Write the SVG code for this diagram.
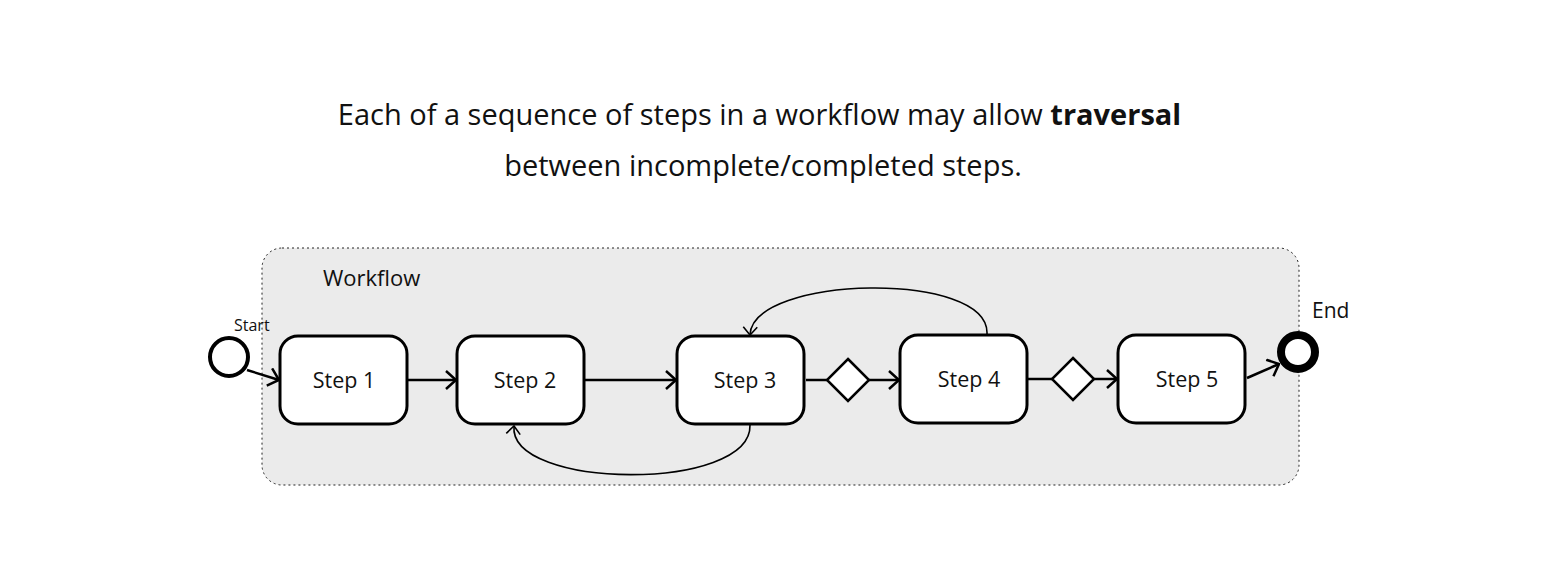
<svg xmlns="http://www.w3.org/2000/svg" width="1553" height="566" viewBox="0 0 1553 566">
<style>
text{font-family:"Open Sans","Noto Sans","Liberation Sans",sans-serif;fill:#111}
.step{fill:#fff;stroke:#000;stroke-width:3}
.lbl{font-size:21.5px;text-anchor:middle}
.c{fill:none;stroke:#000;stroke-width:2.5}
.cv{fill:none;stroke:#000;stroke-width:1.6}
.gw{fill:#fff;stroke:#000;stroke-width:2.5}
</style>
<defs>
<marker id="a" viewBox="0 0 12 20" refX="11" refY="10" markerWidth="12" markerHeight="20" markerUnits="userSpaceOnUse" orient="auto"><path d="M1,1 L11,10 L1,19" fill="none" stroke="#000" stroke-width="2.5"/></marker>
<marker id="s" viewBox="0 0 10 16" refX="9" refY="8" markerWidth="10" markerHeight="16" markerUnits="userSpaceOnUse" orient="auto"><path d="M1,1 L9,8 L1,15" fill="none" stroke="#000" stroke-width="1.6"/></marker>
</defs>
<g id="title">
<text x="759.5" y="125" font-size="29" text-anchor="middle">Each of a sequence of steps in a workflow may allow <tspan font-weight="bold">traversal</tspan></text>
<text x="763" y="176" font-size="29" text-anchor="middle">between incomplete/completed steps.</text>
</g>
<g id="workflow">
<rect x="262" y="248" width="1037" height="237" rx="20" fill="#ebebeb" stroke="#222" stroke-width="1" stroke-dasharray="2,3"/>
<text x="323" y="286" font-size="22">Workflow</text>
</g>
<g id="connectors">
<path class="c" d="M247,370 L279,380" marker-end="url(#a)"/>
<path class="c" d="M408,380 L456,380" marker-end="url(#a)"/>
<path class="c" d="M585,380 L676,380" marker-end="url(#a)"/>
<path class="c" d="M806,380 L827,380"/>
<path class="c" d="M869,380 L899,380" marker-end="url(#a)"/>
<path class="c" d="M1028,379 L1052,379"/>
<path class="c" d="M1094,379 L1117,379" marker-end="url(#a)"/>
<path class="c" d="M1247,378 L1279,364" marker-end="url(#a)"/>
<path class="cv" d="M987,334 C990,270 752,275 750,335" marker-end="url(#s)"/>
<path class="cv" d="M750,425 C752,492 508,490 514,426" marker-end="url(#s)"/>
</g>
<g id="start">
<circle cx="229" cy="357" r="19" fill="#fff" stroke="#000" stroke-width="4"/>
<text x="234" y="331" font-size="16">Start</text>
</g>
<g id="step1"><rect class="step" x="280" y="336" width="127" height="88" rx="18"/><text class="lbl" x="344" y="388">Step 1</text></g>
<g id="step2"><rect class="step" x="457" y="336" width="127" height="88" rx="18"/><text class="lbl" x="525" y="388">Step 2</text></g>
<g id="step3"><rect class="step" x="677" y="336" width="127" height="88" rx="18"/><text class="lbl" x="745" y="388">Step 3</text></g>
<g id="gateway1"><path class="gw" d="M848,359 L869,380 L848,401 L827,380 Z"/></g>
<g id="step4"><rect class="step" x="900" y="335" width="127" height="88" rx="18"/><text class="lbl" x="969" y="387">Step 4</text></g>
<g id="gateway2"><path class="gw" d="M1073,358 L1094,379 L1073,400 L1052,379 Z"/></g>
<g id="step5"><rect class="step" x="1118" y="335" width="127" height="88" rx="18"/><text class="lbl" x="1187" y="387">Step 5</text></g>
<g id="end">
<circle cx="1298" cy="352" r="17" fill="#fff" stroke="#000" stroke-width="8"/>
<text x="1312" y="318" font-size="21">End</text>
</g>
</svg>
